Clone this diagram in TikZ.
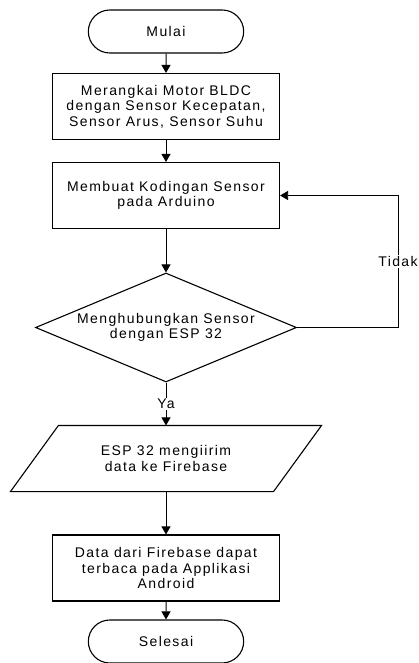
\documentclass[tikz,border=0pt]{standalone}
\usepackage{fontspec}
\setmainfont{Liberation Sans}[LetterSpace=10]
\usetikzlibrary{shapes.geometric,shapes.misc,arrows.meta,positioning}

\tikzset{
  base/.style={draw, line width=1.1pt, align=center, font=\fontsize{14}{15.5}\selectfont},
  terminal/.style={base, rounded rectangle, minimum width=162pt, minimum height=43pt},
  process/.style={base, rectangle, minimum width=227pt, minimum height=66pt},
  decision/.style={base, diamond, aspect=2.4, inner sep=0pt, minimum width=261pt, minimum height=109pt},
  io/.style={base, draw=none, rectangle, minimum width=262pt, minimum height=65pt},
  flow/.style={-{Triangle[length=8pt,width=9pt]}, line width=1pt},
  lbl/.style={fill=white, inner sep=1pt, font=\fontsize{14}{15.5}\selectfont}
}

\begin{document}
\begin{tikzpicture}[x=1pt,y=-1pt]
        \useasboundingbox (0,0) rectangle (419,663);

        % Steps
        \node[terminal] (start) at (166,31.5) {Mulai};
        \node[process] (build) at (166,106.5) {Merangkai Motor BLDC\\dengan Sensor Kecepatan,\\Sensor Arus, Sensor Suhu};
        \node[process] (code) at (166,195.5) {Membuat Kodingan Sensor\\pada Arduino};
        \node[decision] (link) at (166,327.5) {Menghubungkan Sensor\\dengan ESP 32};
        \node[io] (send) at (166,458.5) {ESP 32 mengiirim\\data ke Firebase};
        \node[process] (read) at (166,568) {Data dari Firebase dapat\\terbaca pada Applikasi\\Android};
        \node[terminal] (stop) at (166,641.5) {Selesai};
        \coordinate (loop) at (398,195.5);

        % Data block
        \draw[line width=1.1pt] ([xshift=24pt]send.north west) -- ([xshift=24pt]send.north east)
        -- ([xshift=-24pt]send.south east) -- ([xshift=-24pt]send.south west) -- cycle;

        % Flow
        \draw[flow] (start) -- (build);
        \draw[flow] (build) -- (code);
        \draw[flow] (code) -- (link);
        \draw[flow] (link) -- node[lbl] {Ya} (send);
        \draw[flow] (send) -- (read);
        \draw[flow] (read) -- (stop);
        \draw[flow, line width=0.7pt] (link.east) -| node[lbl, pos=0.75] {Tidak} (loop) -- (code.east);
      \end{tikzpicture}
\end{document}
